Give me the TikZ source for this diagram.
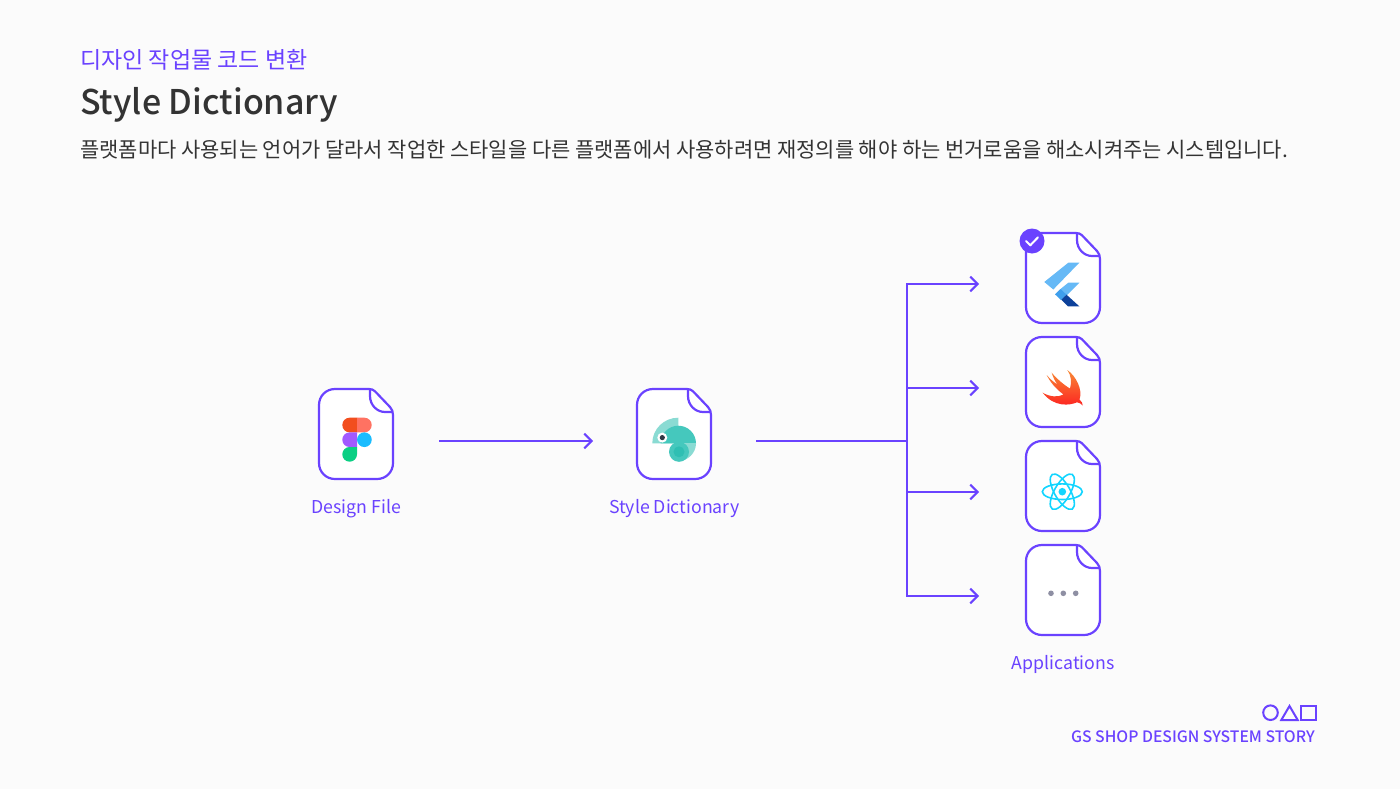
\documentclass[tikz,border=0pt]{standalone}
\usepackage{fontspec}
\usetikzlibrary{arrows.meta}
\newfontfamily\krfont{Noto Sans CJK KR}
\newfontfamily\krmed{Noto Sans CJK KR Medium}
\setmainfont{Liberation Sans}
\definecolor{brand}{HTML}{6A42FF}
\definecolor{ink}{HTML}{333333}
\definecolor{paper}{HTML}{FBFBFB}
\definecolor{figA}{HTML}{F24E1E}
\definecolor{figB}{HTML}{FF7262}
\definecolor{figC}{HTML}{A259FF}
\definecolor{figD}{HTML}{1ABCFE}
\definecolor{figE}{HTML}{0ACF83}
\definecolor{chamL}{HTML}{8ADBD3}
\definecolor{chamM}{HTML}{45C8BD}
\definecolor{chamD}{HTML}{2FBFB3}
\definecolor{chamE}{HTML}{2F3A45}
\definecolor{flutL}{HTML}{66B9F6}
\definecolor{flutM}{HTML}{3F9FEC}
\definecolor{flutD}{HTML}{0D419A}
\definecolor{swiftT}{HTML}{F88A36}
\definecolor{swiftB}{HTML}{FD2020}
\definecolor{reactc}{HTML}{12D5FF}
\definecolor{dotc}{HTML}{8E8FA3}
\tikzset{
  x=0.75pt,y=-0.75pt,
  filebox/.style={minimum width=55.5pt,minimum height=67.5pt,inner sep=0pt,outer sep=0pt},
  wire/.style={draw=brand,line width=1.5pt},
  arrowwire/.style={wire,-{Straight Barb[length=5.5pt,width=11pt,line width=1.5pt]}},
  caption/.style={font=\krfont\fontsize{13.3pt}{16pt}\selectfont,text=brand,anchor=base,inner sep=0pt},
  orbit/.style={draw=reactc,line width=1.2pt},
  docfile/.pic={
    \draw[draw=brand,line width=1.65pt,fill=white,line join=round]
      (16,0) -- (50,0) .. controls (52.5,0) and (54.5,0.8) .. (56,2.3) -- (71,18)
      .. controls (73,20) and (74,23) .. (74,26) -- (74,74)
      .. controls (74,83) and (67,90) .. (58,90) -- (16,90)
      .. controls (7,90) and (0,83) .. (0,74) -- (0,16)
      .. controls (0,7) and (7,0) .. (16,0) -- cycle;
    \draw[draw=brand,line width=1.65pt]
      (51,0) -- (51,7) .. controls (51,16) and (58,23) .. (66,23) -- (74,23);
  }
}
\begin{document}
\begin{tikzpicture}
\useasboundingbox (0,0) rectangle (1400,789);
\fill[paper] (0,0) rectangle (1400,789);
% heading
\node[anchor=base west,inner sep=0pt,text=brand,font=\krfont\fontsize{17.25pt}{20pt}\selectfont] (kicker) at (80,68) {디자인 작업물 코드 변환};
\node[anchor=base west,inner sep=0pt,text=ink,font=\krmed\fontsize{25.5pt}{30pt}\selectfont] (title) at (80,114) {Style Dictionary};
\node[anchor=base west,inner sep=0pt,text=ink,font=\krfont\fontsize{15.7pt}{18pt}\selectfont] (lede) at (80,157) {플랫폼마다 사용되는 언어가 달라서 작업한 스타일을 다른 플랫폼에서 사용하려면 재정의를 해야 하는 번거로움을 해소시켜주는 시스템입니다.};
% file nodes
\node[filebox] (fig) at (356,434) {};
\node[filebox] (dict) at (674,434) {};
\node[filebox] (flut) at (1063,278) {};
\node[filebox] (swft) at (1063,382) {};
\node[filebox] (rct) at (1063,486) {};
\node[filebox] (etc) at (1063,590) {};
\foreach \n in {fig,dict,flut,swft,rct,etc} \pic at (\n.north west) {docfile};
% captions
\node[caption] (capa) at (356.3,513) {Design File};
\node[caption] (capb) at (674.3,513) {Style Dictionary};
\node[caption] (capc) at (1063.3,669) {Applications};
% connectors
\coordinate (figout) at ([shift={(46,7)}]fig.east);
\coordinate (dictin) at ([shift={(-44,7)}]dict.west);
\coordinate (dictout) at ([shift={(45,7)}]dict.east);
\coordinate (junction) at ([shift={(196,7)}]dict.east);
\coordinate (flutin) at ([shift={(-47,6)}]flut.west);
\coordinate (swftin) at ([shift={(-47,6)}]swft.west);
\coordinate (rctin) at ([shift={(-47,6)}]rct.west);
\coordinate (etcin) at ([shift={(-47,6)}]etc.west);
\draw[arrowwire] (figout) -- (dictin);
\draw[wire] (dictout) -- (junction);
\draw[wire,line cap=rect] (junction |- flutin) -- (junction |- etcin);
\draw[arrowwire] (junction |- flutin) -- (flutin);
\draw[arrowwire] (junction |- swftin) -- (swftin);
\draw[arrowwire] (junction |- rctin) -- (rctin);
\draw[arrowwire] (junction |- etcin) -- (etcin);
% figma
\fill[figA] (357,417.7) -- (349.6,417.7) .. controls (345.5,417.7) and (342.3,421) .. (342.3,425) .. controls (342.3,429) and (345.5,432.4) .. (349.6,432.4) -- (357,432.4) -- cycle;
\fill[figB] (357,417.7) -- (364.4,417.7) .. controls (368.5,417.7) and (371.7,421) .. (371.7,425) .. controls (371.7,429) and (368.5,432.4) .. (364.4,432.4) -- (357,432.4) -- cycle;
\fill[figC] (357,432.4) -- (349.6,432.4) .. controls (345.5,432.4) and (342.3,435.7) .. (342.3,439.7) .. controls (342.3,443.8) and (345.5,447) .. (349.6,447) -- (357,447) -- cycle;
\fill[figD] (364.4,439.7) circle[radius=7.35];
\fill[figE] (357,447) -- (349.6,447) .. controls (345.5,447) and (342.3,450.3) .. (342.3,454.4) .. controls (342.3,458.4) and (345.5,461.7) .. (349.6,461.7) .. controls (353.6,461.7) and (357,458.4) .. (357,454.4) -- cycle;
% chameleon
\fill[chamL] (678.3,443.3) -- (652.3,443.3) .. controls (652.3,429) and (664,417.7) .. (678.3,417.7) -- cycle;
\fill[chamL] (678.3,443.3) -- (696,443.3) .. controls (696,453) and (688,461) .. (678.3,461) -- cycle;
\fill[chamM] (660.7,443.3) .. controls (660.7,433.6) and (668.6,425.7) .. (678.3,425.7) .. controls (688,425.7) and (696,433.6) .. (696,443.3) -- cycle;
\fill[chamM] (679,451.8) circle[radius=10];
\fill[chamD] (679,451.8) circle[radius=5.5];
\fill[white] (662.3,437.6) circle[radius=5];
\fill[chamE] (662.3,437.6) circle[radius=2.6];
% flutter
\fill[flutL] (1068.3,262.7) -- (1079.3,262.7) -- (1053.3,289.5) -- (1044.3,282) -- cycle;
\fill[flutL] (1068.3,282.7) -- (1079.3,282.7) -- (1066.3,295.8) -- (1060.5,289) -- cycle;
\fill[flutD] (1061,299.5) -- (1066.3,294.5) -- (1079.3,306.3) -- (1068,306.3) -- cycle;
\fill[flutM] (1055,294.3) -- (1060.5,289) -- (1066.3,294.5) -- (1061,300) -- cycle;
% check badge
\node[circle,fill=brand,minimum size=18.75pt,inner sep=0pt] (badge) at (1032,241) {};
\draw[white,line width=1.5pt,line cap=round,line join=round] (1026,241) -- (1030.3,245.3) -- (1038,237.3);
% swift
\shade[top color=swiftT,bottom color=swiftB]
 (1067.3,370) .. controls (1076,376) and (1083,390) .. (1079.5,399.5) .. controls (1081.5,401.5) and (1083,403.5) .. (1082.7,405.5)
 .. controls (1081,403.5) and (1079,402.5) .. (1077,402.3) .. controls (1070,405.5) and (1054,407.5) .. (1042.7,392.7)
 .. controls (1050,397) and (1058,397.5) .. (1063.5,394.5) .. controls (1056,389) and (1050,382) .. (1046.7,375)
 .. controls (1050,379) and (1054,382.5) .. (1057.5,384.5) .. controls (1055,381.5) and (1053,377) .. (1051.7,372.7)
 .. controls (1057,379) and (1064,385) .. (1070,388.5) .. controls (1072,382) and (1071,375) .. (1067.3,370) -- cycle;
% react
\draw[orbit] (1062.3,491.7) ellipse[x radius=20,y radius=7.8];
\draw[orbit,rotate around={60:(1062.3,491.7)}] (1062.3,491.7) ellipse[x radius=20,y radius=7.8];
\draw[orbit,rotate around={120:(1062.3,491.7)}] (1062.3,491.7) ellipse[x radius=20,y radius=7.8];
\fill[reactc] (1062.3,491.7) circle[radius=3.8];
% dots
\fill[dotc] (1051,593.3) circle[radius=2.8] (1063.3,593.3) circle[radius=2.8] (1075.7,593.3) circle[radius=2.8];
% footer
\draw[wire] (1270.5,712.7) circle[radius=7.3];
\draw[wire,line join=miter] (1281.3,720) -- (1297.7,720) -- (1289.5,706) -- cycle;
\draw[wire] (1300.8,705.8) rectangle (1315.6,720);
\node[anchor=base east,inner sep=0pt,text=brand,font=\krmed\fontsize{11.8pt}{14pt}\selectfont] (footer) at (1315,742) {GS SHOP DESIGN SYSTEM STORY};
\end{tikzpicture}
\end{document}
